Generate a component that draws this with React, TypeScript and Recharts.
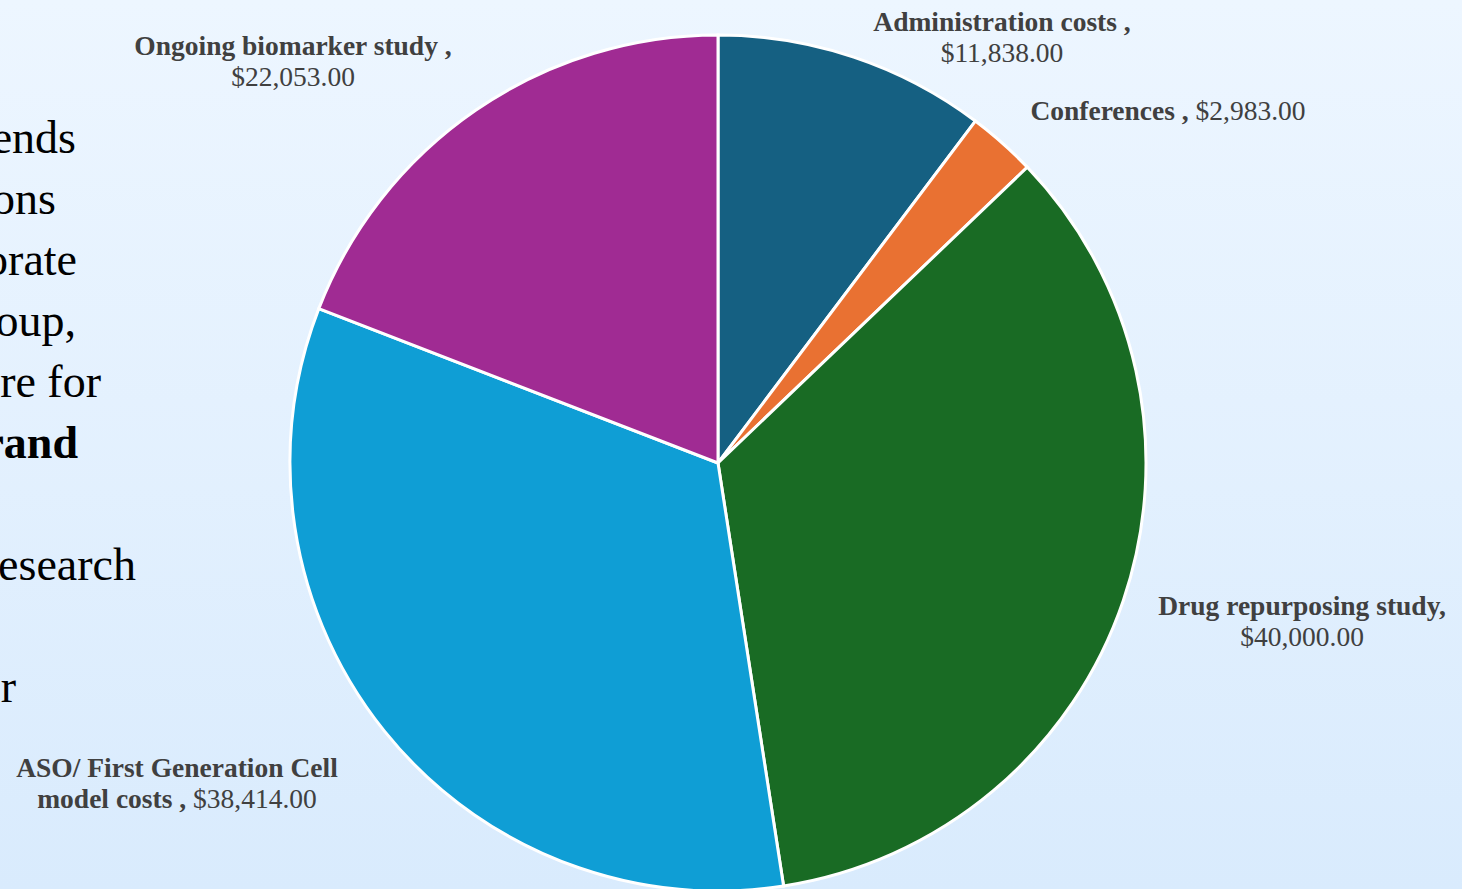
import { Cell, Pie, PieChart } from 'recharts';

// budget categories, clockwise from 12 o'clock
const categories = [
  'Administration costs',
  'Conferences',
  'Drug repurposing study',
  'ASO/ First Generation Cell model costs',
  'Ongoing biomarker study',
];
const amounts = [11838, 2983, 40000, 38414, 22053];
const colors = ['#156082', '#E97132', '#196B24', '#0F9ED5', '#A02B93'];

// how each label wraps (bold part), and whether the amount sits on the last line
const labelNameLines = [
  ['Administration costs ,'],
  ['Conferences , '],
  ['Drug repurposing study,'],
  ['ASO/ First Generation Cell', 'model costs , '],
  ['Ongoing biomarker study ,'],
];
const valueInline = [false, true, false, true, false];
// label centre relative to pie centre
const labelOffsets = [
  [284, -442],
  [450, -353],
  [584, 142],
  [-541, 304],
  [-425, -418],
];

// slide body text, clipped at the left edge of the screenshot
const sideText = ['ends', 'ons', 'orate', 'oup,', 're for', 'rand', '', 'esearch', '', 'r'];
const sideRightEdge = [76, 56, 77, 76, 101, 78, 0, 136, 0, 16];

const data = categories.map((name, i) => ({ name, value: amounts[i] }));

const fmt = (v: number) =>
  '$' + v.toLocaleString('en-US', { minimumFractionDigits: 2, maximumFractionDigits: 2 });

const LINE_H = 31;

const renderLabel = (props: any) => {
  const { cx, cy, index, value } = props;
  const [dx, dy] = labelOffsets[index];
  const x = cx + dx;
  const y0 = cy + dy;
  const lines = labelNameLines[index];
  const rows: any[] = lines.map((t, i) => {
    const last = i === lines.length - 1;
    return (
      <tspan key={i} x={x} y={y0 + i * LINE_H}>
        <tspan fontWeight="bold">{t}</tspan>
        {last && valueInline[index] ? <tspan fontWeight="normal">{fmt(value)}</tspan> : null}
      </tspan>
    );
  });
  if (!valueInline[index]) {
    rows.push(
      <tspan key="v" x={x} y={y0 + lines.length * LINE_H} fontWeight="normal">
        {fmt(value)}
      </tspan>
    );
  }
  return (
    <text
      key={'lbl' + index}
      textAnchor="middle"
      dominantBaseline="central"
      fill="#404040"
      fontFamily="'Liberation Serif', 'DejaVu Serif', serif"
      fontSize={27.5}
    >
      {rows}
    </text>
  );
};

export default function App() {
  return (
    <div
      style={{
        position: 'absolute',
        left: 0,
        top: 0,
        width: 1462,
        height: 889,
        overflow: 'hidden',
        background: 'linear-gradient(180deg, #EDF6FF 0%, #D9EBFD 100%)',
      }}
    >
      <svg
        width={1462}
        height={889}
        style={{ position: 'absolute', left: 0, top: 0 }}
        fontFamily="'Liberation Serif', serif"
      >
        {sideText.map((t, i) =>
          t ? (
            <text
              key={i}
              x={sideRightEdge[i]}
              y={153 + i * 61}
              textAnchor="end"
              fontSize={46}
              fill="#000"
              fontWeight={t === 'rand' ? 'bold' : 'normal'}
            >
              {t}
            </text>
          ) : null
        )}
      </svg>
      <div style={{ position: 'absolute', left: 0, top: 0 }}>
        <PieChart width={1462} height={889} margin={{ top: 0, right: 0, bottom: 0, left: 0 }}>
          <Pie
            data={data}
            dataKey="value"
            nameKey="name"
            cx={718}
            cy={463}
            outerRadius={428}
            startAngle={90}
            endAngle={-270}
            stroke="#FFFFFF"
            strokeWidth={3}
            label={renderLabel}
            labelLine={false}
            isAnimationActive={false}
          >
            {data.map((d, i) => (
              <Cell key={d.name} fill={colors[i]} />
            ))}
          </Pie>
        </PieChart>
      </div>
    </div>
  );
}
